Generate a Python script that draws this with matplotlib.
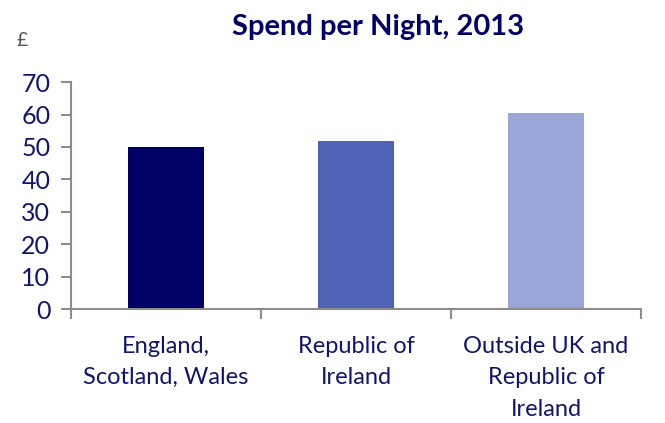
import numpy as np
import matplotlib.pyplot as plt

# Datos
categorias = ['England,\nScotland, Wales', 'Republic of\nIreland',
              'Outside UK and\nRepublic of\nIreland']
gasto = [50.0, 51.8, 60.5]
colores = ['#000066', '#4f62b5', '#9aa6d7']

navy = '#14146b'
gris = '#8c8c8c'

plt.rcParams['font.family'] = ['Lato', 'DejaVu Sans']

fig = plt.figure(figsize=(6.65, 4.23), dpi=100)
ax = fig.add_axes([0.107, 0.269, 0.857, 0.537])

x = np.arange(len(categorias))
ax.bar(x, gasto, width=0.4, color=colores)

ax.set_xlim(-0.5, 2.5)
ax.set_ylim(0, 70)
ax.set_yticks(range(0, 71, 10))
ax.set_xticks(np.arange(-0.5, 3, 1))
ax.set_xticklabels([])
ax.set_xticks(x, minor=True)
ax.set_xticklabels(categorias, minor=True, fontsize=17, color=navy,
                   linespacing=1.62, va='top')
ax.tick_params(axis='x', which='minor', length=0, pad=19)
ax.tick_params(axis='x', which='major', length=7, width=1.5, color=gris)
ax.tick_params(axis='y', length=7, width=1.5, color=gris,
               labelsize=18, labelcolor=navy, pad=8)

for lado in ['top', 'right']:
    ax.spines[lado].set_visible(False)
for lado in ['left', 'bottom']:
    ax.spines[lado].set_color(gris)
    ax.spines[lado].set_linewidth(1.5)

fig.text(0.568, 0.935, 'Spend per Night, 2013', ha='center', va='center',
         fontsize=21, fontweight='bold', color='#000066')
fig.text(0.025, 0.905, '£', ha='left', va='center', fontsize=14, color='#555555')

plt.savefig('out.png', dpi=100)
